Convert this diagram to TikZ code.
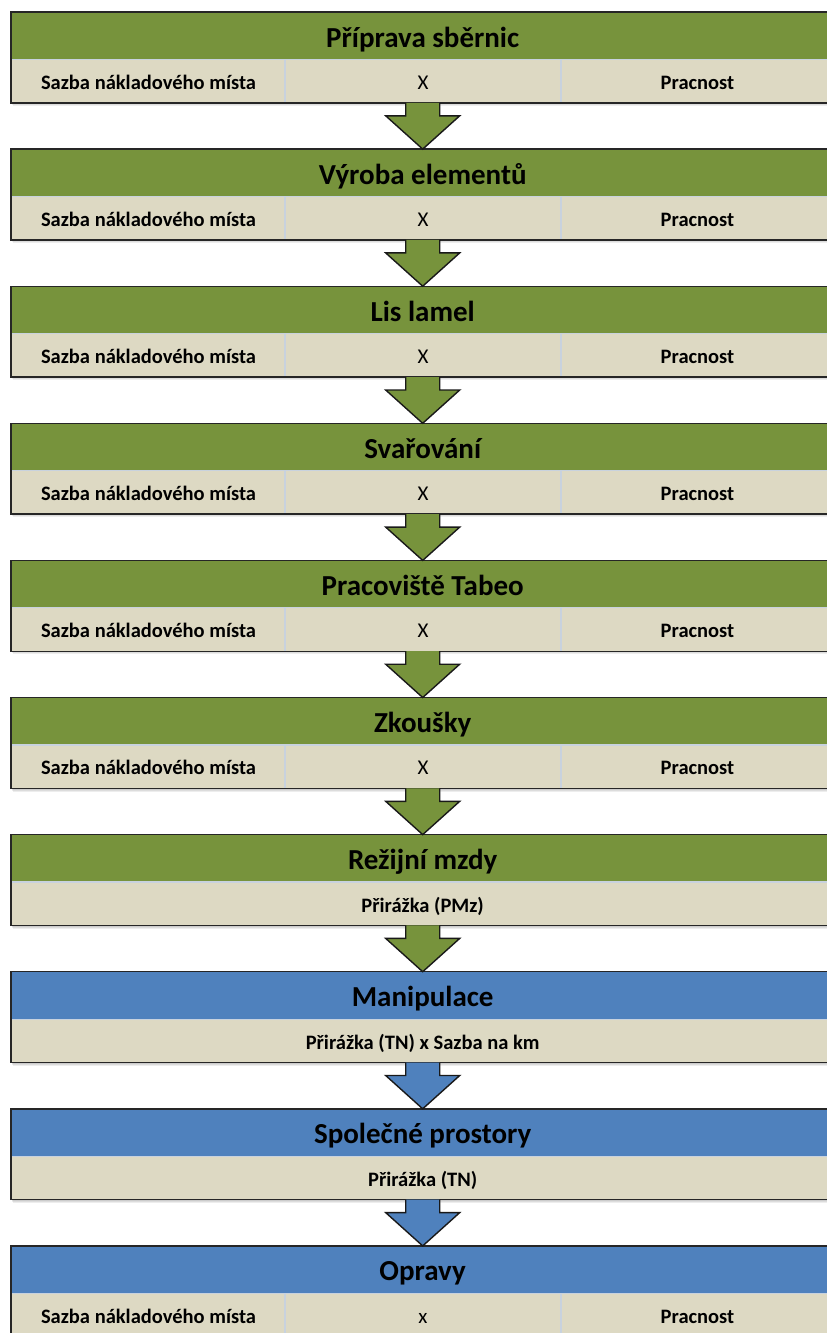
\documentclass[tikz,border=0pt]{standalone}
\usepackage{fontspec}
\setmainfont{Carlito}
\usetikzlibrary{calc}
\definecolor{grn}{HTML}{77933C}
\definecolor{blu}{HTML}{4F81BD}
\definecolor{bei}{HTML}{DDD9C3}
\definecolor{sepc}{HTML}{C8D2DE}
\tikzset{
  hdr/.style={anchor=north west, minimum width=823pt, minimum height=47pt, inner sep=0pt},
  rowbox/.style={anchor=north west, minimum width=823pt, minimum height=43pt, inner sep=0pt, fill=bei},
  sepline/.style={draw=sepc, line width=1.2pt},
  frame/.style={draw=black!85, line width=1.4pt},
  htxt/.style={anchor=base, inner sep=0pt, font=\bfseries\fontsize{29}{32}\selectfont},
  rtxt/.style={anchor=base, inner sep=0pt, font=\bfseries\fontsize{20.5}{23}\selectfont},
  xtxt/.style={anchor=base, inner sep=0pt, font=\fontsize{21}{23}\selectfont},
  arr/.style={draw=black!90, line width=1.4pt, line join=miter},
}
\newcommand\mkblock[4]{%
  \foreach \s in {1,...,4}{\fill[black,opacity=0.07] (11+\s*0.4,#2+\s) rectangle (834+\s*0.4,#2+90+\s);}
  \node[hdr,fill=#4] (h#1) at (11,#2) {};
  \node[rowbox] (r#1) at (h#1.south west) {};
  \node[htxt] (t#1) at ($(h#1.north)+(0,35)$) {#3};
  \draw[sepline] (h#1.south west) -- (h#1.south east);
}
\newcommand\mkframe[1]{\draw[frame] (h#1.north west) rectangle (r#1.south east);}
\newcommand\threecol[3]{%
  \draw[sepline] ($(r#1.north west)+(274,0)$) -- ($(r#1.south west)+(274,0)$);
  \draw[sepline] ($(r#1.north west)+(550,0)$) -- ($(r#1.south west)+(550,0)$);
  \node[rtxt] (a#1) at ($(r#1.north west)+(137.5,30)$) {Sazba nákladového místa};
  \node[#3] (b#1) at ($(r#1.north west)+(412,30)$) {#2};
  \node[rtxt] (c#1) at ($(r#1.north west)+(686.5,30)$) {Pracnost};
}
\newcommand\onecol[2]{%
  \node[rtxt] (a#1) at ($(r#1.north)+(0,30)$) {#2};
}
\newcommand\mkarrow[3]{%
  \filldraw[arr, fill=#3]
    ($(r#1.south)+(-17,0)$) -- ($(r#1.south)+(-17,13)$) -- ($(r#1.south)+(-37,13)$)
    -- (h#2.north) -- ($(r#1.south)+(37,13)$) -- ($(r#1.south)+(17,13)$) -- ($(r#1.south)+(17,0)$);
}
\begin{document}
\begin{tikzpicture}[x=1pt,y=-1pt]
\useasboundingbox (0,0) rectangle (827,1333);
\fill[white] (0,0) rectangle (827,1333);
\clip (0,0) rectangle (827,1333);
\mkblock{1}{12}{Příprava sběrnic}{grn}
\threecol{1}{X}{xtxt}
\mkframe{1}
\mkblock{2}{149.1}{Výroba elementů}{grn}
\threecol{2}{X}{xtxt}
\mkframe{2}
\mkblock{3}{286.2}{Lis lamel}{grn}
\threecol{3}{X}{xtxt}
\mkframe{3}
\mkblock{4}{423.3}{Svařování}{grn}
\threecol{4}{X}{xtxt}
\mkframe{4}
\mkblock{5}{560.4}{Pracoviště Tabeo}{grn}
\threecol{5}{X}{xtxt}
\mkframe{5}
\mkblock{6}{697.5}{Zkoušky}{grn}
\threecol{6}{X}{xtxt}
\mkframe{6}
\mkblock{7}{834.6}{Režijní mzdy}{grn}
\onecol{7}{Přirážka (PMz)}
\mkframe{7}
\mkblock{8}{971.7}{Manipulace}{blu}
\onecol{8}{Přirážka (TN) x Sazba na km}
\mkframe{8}
\mkblock{9}{1108.8}{Společné prostory}{blu}
\onecol{9}{Přirážka (TN)}
\mkframe{9}
\mkblock{10}{1245.9}{Opravy}{blu}
\threecol{10}{x}{xtxt}
\mkframe{10}
\mkarrow{1}{2}{grn}
\mkarrow{2}{3}{grn}
\mkarrow{3}{4}{grn}
\mkarrow{4}{5}{grn}
\mkarrow{5}{6}{grn}
\mkarrow{6}{7}{grn}
\mkarrow{7}{8}{grn}
\mkarrow{8}{9}{blu}
\mkarrow{9}{10}{blu}
\end{tikzpicture}
\end{document}
